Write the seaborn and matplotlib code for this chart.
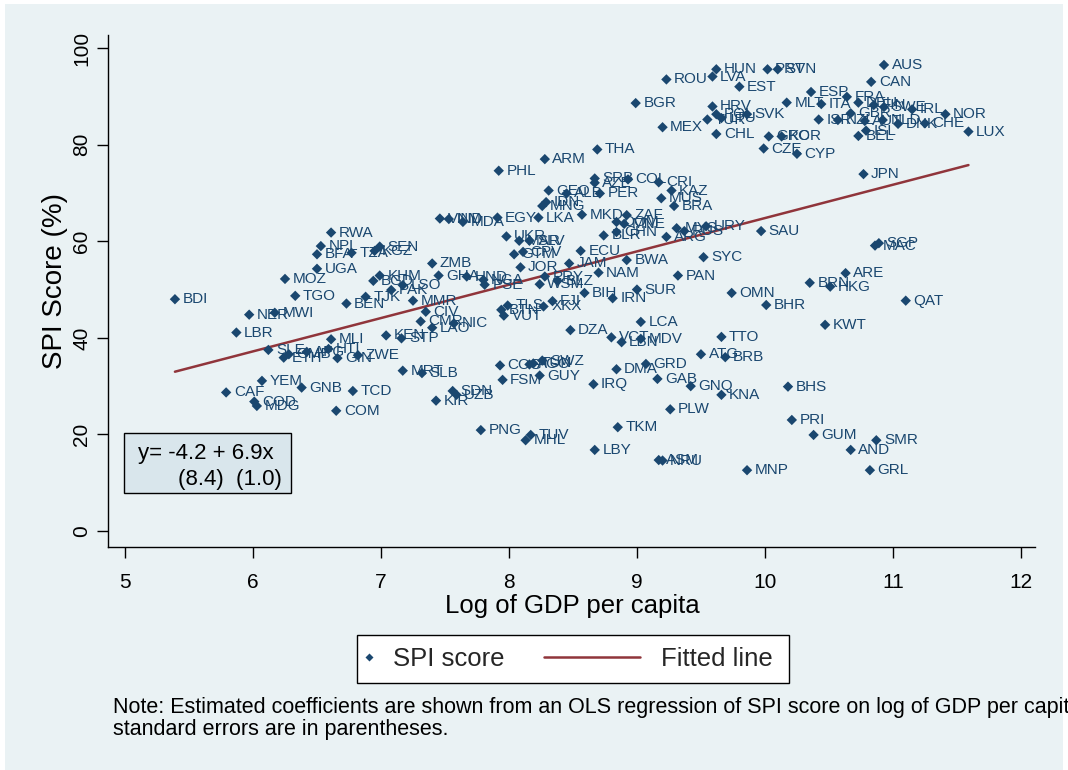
import matplotlib
matplotlib.use("Agg")
import matplotlib.pyplot as plt
from matplotlib.patches import Rectangle
from matplotlib.lines import Line2D
import seaborn as sns
import pandas as pd

# ---------------- data ----------------
countries = [
    "AUS", "HUN", "PRT", "SVN", "ROU", "LVA", "EST", "CAN", "ESP", "FRA",
    "MLT", "ITA", "BGR", "HRV", "POL", "LTU", "TUR", "SVK", "MEX", "CHL",
    "GRC", "KOR", "CZE", "CYP", "ISR", "DEU", "GBR", "FIN", "SWE", "IRL",
    "NOR", "NZL", "AUT", "NLD", "DNK", "CHE", "ISL", "BEL", "LUX", "JPN",
    "THA", "ARM", "PHL", "SRB", "AZE", "COL", "CRI", "KAZ", "GEO", "ALB",
    "PER", "MUS", "BRA", "IDN", "MNG", "LKA", "EGY", "MKD", "ZAF", "DOM",
    "MNE", "BLR", "CHN", "ARG", "MYS", "RUS", "URY", "VNM", "IND", "MDA",
    "UKR", "MAR", "SLV", "GTM", "CPV", "ECU", "BWA", "SYC", "JAM", "JOR",
    "NAM", "PAN", "PRY", "WSM", "BLZ", "BIH", "IRN", "SUR", "FJI", "XKX",
    "TLS", "BTN", "VUT", "LCA", "DZA", "VCT", "LBN", "MDV", "TTO", "HND",
    "NGA", "PSE", "ATG", "BRB", "COG", "AGO", "TUN", "SWZ", "GUY", "FSM",
    "DMA", "GRD", "GAB", "IRQ", "GNQ", "KNA", "PLW", "TKM", "PNG", "TUV",
    "MHL", "LBY", "ASM", "NRU", "MNP", "SDN", "UZB", "KIR", "SLB", "MRT",
    "YEM", "CAF", "GNB", "TCD", "COD", "MDG", "COM", "BDI", "RWA", "NPL",
    "BFA", "TZA", "SEN", "KGZ", "UGA", "MOZ", "KHM", "BGD", "PAK", "LSO",
    "TGO", "TJK", "BEN", "MMR", "NER", "MWI", "CIV", "CMR", "LAO", "NIC",
    "LBR", "MLI", "KEN", "STP", "SLE", "ETH", "GMB", "AFG", "HTI", "ZWE",
    "GIN", "ZMB", "GHA", "SGP", "MAC", "ARE", "BRN", "HKG", "QAT", "OMN",
    "BHR", "KWT", "SAU", "BHS", "PRI", "GUM", "SMR", "AND", "GRL",
]

log_gdp = [
    10.93, 9.62, 10.02, 10.10, 9.23, 9.59, 9.80, 10.83, 10.36, 10.64,
    10.17, 10.44, 8.99, 9.59, 9.62, 9.66, 9.55, 9.86, 9.20, 9.62,
    10.03, 10.13, 9.99, 10.25, 10.42, 10.73, 10.67, 10.85, 10.93, 11.15,
    11.41, 10.57, 10.78, 10.92, 11.04, 11.25, 10.79, 10.73, 11.59, 10.77,
    8.69, 8.28, 7.92, 8.67, 8.67, 8.93, 9.17, 9.27, 8.31, 8.45,
    8.71, 9.19, 9.29, 8.29, 8.26, 8.23, 7.91, 8.57, 8.92, 8.84,
    8.90, 8.74, 8.84, 9.23, 9.31, 9.37, 9.54, 7.46, 7.53, 7.64,
    7.98, 8.08, 8.16, 8.04, 8.11, 8.56, 8.92, 9.52, 8.47, 8.09,
    8.70, 9.32, 8.28, 8.24, 8.38, 8.59, 8.81, 9.00, 8.34, 8.27,
    7.99, 7.94, 7.96, 9.03, 8.48, 8.80, 8.88, 9.03, 9.66, 7.67,
    7.80, 7.81, 9.50, 9.69, 7.93, 8.16, 8.19, 8.26, 8.24, 7.95,
    8.84, 9.07, 9.16, 8.66, 9.42, 9.66, 9.26, 8.85, 7.78, 8.17,
    8.13, 8.67, 9.17, 9.20, 9.86, 7.56, 7.59, 7.43, 7.32, 7.17,
    6.07, 5.79, 6.38, 6.78, 6.01, 6.03, 6.65, 5.39, 6.61, 6.53,
    6.50, 6.77, 6.99, 6.95, 6.50, 6.25, 6.99, 6.94, 7.08, 7.17,
    6.33, 6.88, 6.73, 7.25, 5.97, 6.17, 7.35, 7.31, 7.40, 7.57,
    5.87, 6.61, 7.04, 7.16, 6.12, 6.24, 6.28, 6.42, 6.59, 6.82,
    6.66, 7.40, 7.45, 10.89, 10.86, 10.63, 10.35, 10.51, 11.10, 9.74,
    10.01, 10.47, 9.97, 10.18, 10.21, 10.38, 10.87, 10.67, 10.82,
]

spi_score = [
    96.5, 95.6, 95.6, 95.6, 93.5, 94.1, 92.0, 93.0, 90.9, 89.9,
    88.7, 88.4, 88.6, 87.9, 86.3, 85.5, 85.2, 86.3, 83.6, 82.2,
    81.7, 81.7, 79.2, 78.1, 85.2, 88.7, 86.5, 88.2, 87.8, 87.3,
    86.3, 85.1, 84.9, 85.1, 84.3, 84.4, 82.9, 81.8, 82.7, 73.9,
    79.0, 77.0, 74.6, 73.0, 72.1, 72.8, 72.2, 70.5, 70.5, 69.9,
    69.9, 68.9, 67.3, 68.1, 67.3, 64.9, 64.9, 65.5, 65.4, 64.0,
    63.6, 61.2, 61.9, 60.9, 62.7, 62.1, 63.1, 64.7, 64.6, 64.0,
    61.0, 60.1, 60.1, 57.3, 57.8, 58.0, 56.1, 56.7, 55.4, 54.6,
    53.5, 52.9, 52.7, 51.1, 51.8, 49.3, 48.2, 50.0, 47.6, 46.5,
    46.7, 45.8, 44.6, 43.3, 41.6, 40.1, 39.1, 39.8, 40.2, 52.7,
    52.0, 51.0, 36.6, 36.0, 34.3, 34.5, 34.7, 35.3, 32.2, 31.3,
    33.5, 34.6, 31.5, 30.4, 30.0, 28.2, 25.2, 21.5, 20.9, 19.9,
    18.8, 16.8, 14.7, 14.6, 12.6, 29.0, 28.2, 27.0, 32.7, 33.2,
    31.1, 28.7, 29.7, 29.0, 26.8, 25.9, 24.9, 48.0, 61.8, 59.0,
    57.3, 57.6, 58.9, 58.0, 54.3, 52.2, 52.9, 51.8, 49.9, 50.9,
    48.7, 48.5, 47.1, 47.7, 44.8, 45.2, 45.4, 43.4, 42.1, 43.0,
    41.1, 39.7, 40.5, 39.9, 37.5, 35.9, 36.6, 37.1, 37.7, 36.4,
    35.8, 55.4, 52.9, 59.6, 59.1, 53.4, 51.4, 50.6, 47.7, 49.3,
    46.8, 42.7, 62.1, 29.9, 23.0, 19.9, 18.8, 16.8, 12.6,
]

fit_intercept = -4.2
fit_slope = 6.9
fit_se = ["(8.4)", "(1.0)"]

x_ticks = [5, 6, 7, 8, 9, 10, 11, 12]
y_ticks = [0, 20, 40, 60, 80, 100]

x_title = "Log of GDP per capita"
y_title = "SPI Score (%)"
legend_labels = ["SPI score", "Fitted line"]
note_lines = [
    "Note: Estimated coefficients are shown from an OLS regression of SPI score on log of GDP per capita;",
    "standard errors are in parentheses.",
]

# ---------------- styling ----------------
BG = "#EAF2F4"
NAVY = "#1A476F"
MAROON = "#90353B"

sns.set_theme(style="white")
plt.rcParams["font.family"] = ["Liberation Sans", "DejaVu Sans"]

W, H = 1068, 770
fig = plt.figure(figsize=(W / 100, H / 100), dpi=100)
fig.patch.set_facecolor("white")
fig.patches.append(Rectangle((5 / W, 0), (1063 - 5) / W, 1 - 4 / H,
                             transform=fig.transFigure, facecolor=BG,
                             edgecolor="none", zorder=-10))

ax = fig.add_axes([108 / W, 1 - 547 / H, (1035 - 108) / W, (547 - 35) / H])
ax.set_facecolor(BG)
ax.patch.set_alpha(0)

df = pd.DataFrame({"country": countries, "log_gdp": log_gdp, "spi": spi_score})

sns.scatterplot(data=df, x="log_gdp", y="spi", ax=ax, marker="D", s=28,
                color=NAVY, edgecolor="none", linewidth=0, zorder=3, legend=False)

for c, xv, yv in zip(df["country"], df["log_gdp"], df["spi"]):
    ax.annotate(c, (xv, yv), xytext=(5.5, 0), textcoords="offset points",
                ha="left", va="center", fontsize=11, color=NAVY, zorder=4)

xs = [df["log_gdp"].min(), df["log_gdp"].max()]
fit_df = pd.DataFrame({"x": xs, "y": [fit_intercept + fit_slope * v for v in xs]})
sns.lineplot(data=fit_df, x="x", y="y", ax=ax, color=MAROON, linewidth=1.8, zorder=2)

ax.set_xlim(4.867, 12.11)
ax.set_ylim(-3.3, 102.7)
ax.set_xticks(x_ticks)
ax.set_yticks(y_ticks)
ax.set_xticklabels([str(t) for t in x_ticks])
ax.set_yticklabels([str(t) for t in y_ticks], rotation=90, va="center")
ax.tick_params(axis="both", which="major", length=8, width=1, color="black",
               direction="out", labelsize=15, labelcolor="black",
               bottom=True, left=True)
ax.tick_params(axis="x", pad=11)
ax.tick_params(axis="y", pad=4)

for side in ["top", "right"]:
    ax.spines[side].set_visible(False)
for side in ["left", "bottom"]:
    ax.spines[side].set_color("black")
    ax.spines[side].set_linewidth(1)

ax.set_xlabel(x_title, fontsize=18.5, color="black", va="center")
ax.set_ylabel(y_title, fontsize=20, color="black", va="center", ha="center")
ax.xaxis.set_label_coords((572 - 108) / 927, (547 - 606) / 512)
ax.yaxis.set_label_coords((55 - 108) / 927, (547 - 281) / 512)
ax.grid(False)

# regression annotation box
fig.patches.append(Rectangle((124 / W, 1 - 493 / H), 167 / W, 60 / H,
                             transform=fig.transFigure, facecolor="#D9E6EC",
                             edgecolor="black", linewidth=1, zorder=5))
fig.text(138 / W, 1 - 454 / H,
         f"y= {fit_intercept:.1f} + {fit_slope:.1f}x",
         fontsize=16, ha="left", va="center", color="black", zorder=6)
fig.text(178 / W, 1 - 479 / H, f"{fit_se[0]}  {fit_se[1]}",
         fontsize=16, ha="left", va="center", color="black", zorder=6)

# legend: one frame holding two entries with different handle widths
fig.patches.append(Rectangle((357 / W, 1 - 683 / H), (789 - 357) / W, 48 / H,
                             transform=fig.transFigure, facecolor="white",
                             edgecolor="black", linewidth=1, zorder=5))
marker_handle = Line2D([], [], linestyle="none", marker="D", markersize=4.5,
                       markerfacecolor=NAVY, markeredgecolor="none")
line_handle = Line2D([], [], color=MAROON, linewidth=1.8)
leg1 = fig.legend([marker_handle], [legend_labels[0]], loc="center left",
                  bbox_to_anchor=(356 / W, 1 - 659 / H), fontsize=18.5,
                  frameon=False, handlelength=1.0, handletextpad=0.45,
                  borderpad=0, borderaxespad=0)
leg1.set_zorder(6)
leg2 = fig.legend([line_handle], [legend_labels[1]], loc="center left",
                  bbox_to_anchor=(544 / W, 1 - 659 / H), fontsize=18.5,
                  frameon=False, handlelength=3.75, handletextpad=0.8,
                  borderpad=0, borderaxespad=0)
leg2.set_zorder(6)

# note (runs past the right edge, as in the reference)
fig.text(113 / W, 1 - 707 / H, note_lines[0], fontsize=15.5, ha="left",
         va="center", color="black")
fig.text(113 / W, 1 - 729 / H, note_lines[1], fontsize=15.5, ha="left",
         va="center", color="black")

fig.savefig("out.png", dpi=100, facecolor=fig.get_facecolor())
